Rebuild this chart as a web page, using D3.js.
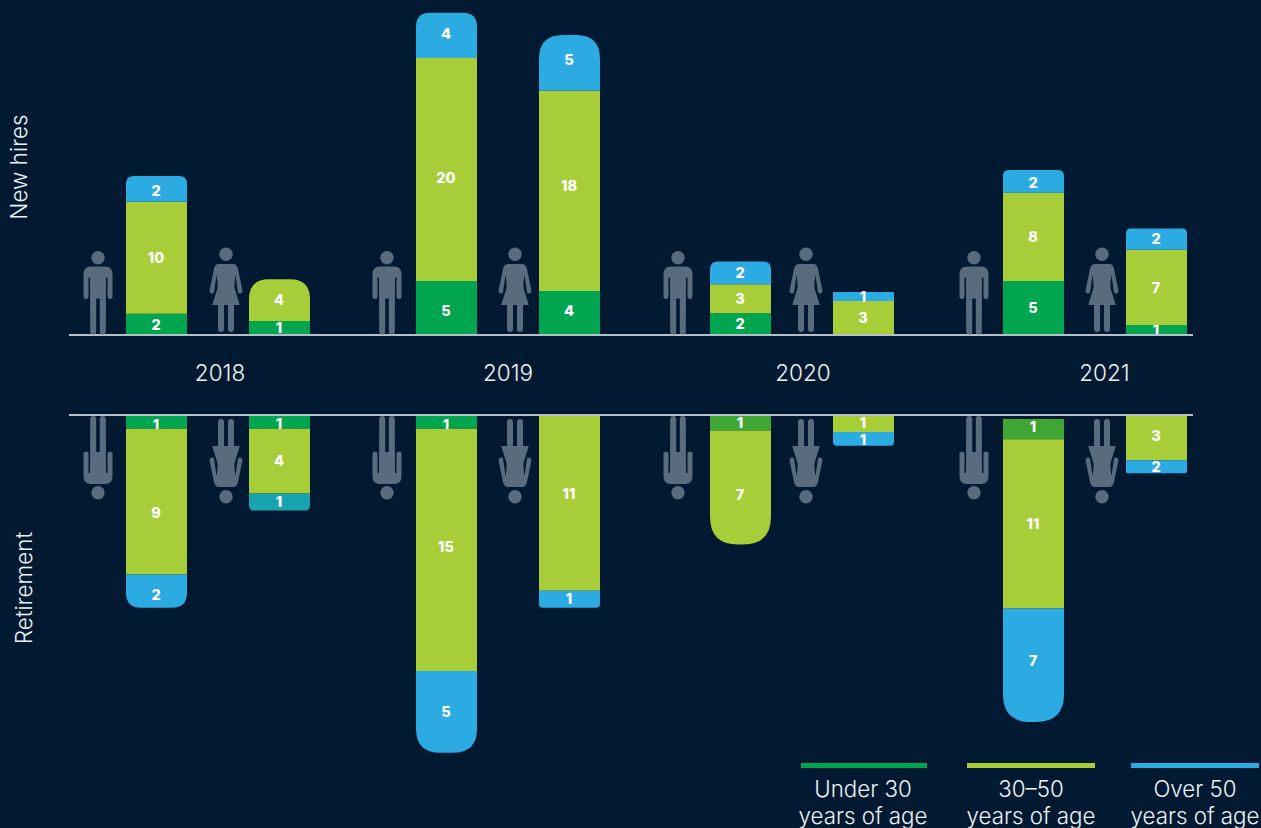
<!DOCTYPE html>
<html>
<head>
<meta charset="utf-8">
<script src="https://cdn.jsdelivr.net/npm/d3@7"></script>
<style>
    html, body { margin: 0; padding: 0; background: #011a32; }
    svg { display: block; }
    text { font-family: Inter, Lato, sans-serif; }
</style>
</head>
<body>
<div id="chart"></div>
<script>
const years = ["2018", "2019", "2020", "2021"];
const sexes = ["male", "female"];
const ageGroups = ["under30", "mid", "over50"];
const ageNames = [["Under 30", "years of age"], ["30–50", "years of age"], ["Over 50", "years of age"]];

// order of every list below: 2018 m, 2018 f, 2019 m, 2019 f, 2020 m, 2020 f, 2021 m, 2021 f
const hiresUnder30 = [1.9, 1.25, 4.85, 3.95, 1.95, 0, 4.85, 0.9];
const hiresMid = [10.05, 3.75, 20, 17.95, 2.6, 3.05, 7.9, 6.75];
const hiresOver50 = [2.3, 0, 4.05, 5, 2.05, 0.8, 2.05, 1.9];
const hiresUnder30Labels = ["2", "1", "5", "4", "2", "", "5", "1"];
const hiresMidLabels = ["10", "4", "20", "18", "3", "3", "8", "7"];
const hiresOver50Labels = ["2", "", "4", "5", "2", "1", "2", "2"];

const retireGap = [0, 0, 0, 0, 0, 0, 0.25, 0];
const retireUnder30 = [0.85, 0.85, 0.85, 0, 0.95, 0, 1.25, 0];
const retireMid = [9, 4, 14.95, 10.85, 7.05, 1.05, 10.45, 2.8];
const retireOver50 = [2.05, 1.05, 5.05, 1.05, 0, 0.85, 7, 0.8];
const retireUnder30Labels = ["1", "1", "1", "", "1", "", "1", ""];
const retireMidLabels = ["9", "4", "15", "11", "7", "1", "11", "3"];
const retireOver50Labels = ["2", "1", "5", "1", "", "1", "7", "2"];

const width = 1261, height = 828;
const barWidth = 61;
const hiresBase = 335, retireBase = 415;

// corner rounding differs from bar to bar in the original
const hiresRadius = [8, 20, 14, 24, 8, 0, 6, 5];
const retireRadius = [15, 5, 24, 4, 28, 4, 28, 2];

const color = d3.scaleOrdinal(ageGroups, ["#00a54f", "#a7ce38", "#2cabe3"]);
// a few segments are printed in an odd tint
const tints = { "retire:1:over50": "#19a3ae", "retire:4:under30": "#3fa535", "retire:6:under30": "#3fa535" };
// the printed numbers were placed by hand, not exactly mid segment
const labelNudge = {
    "hires:2:under30": 3, "hires:2:mid": 8.5, "hires:2:over50": -1.5,
    "hires:3:under30": -2, "hires:3:mid": -5, "hires:3:over50": -3,
    "hires:0:over50": 2, "hires:6:over50": 1.5,
    "retire:0:under30": 3, "retire:0:mid": 11.5, "retire:0:over50": 4,
    "retire:1:under30": 2, "retire:2:under30": 3, "retire:2:mid": -3,
    "retire:3:mid": -9, "retire:4:mid": 7,
    "retire:5:mid": -0.5, "retire:5:over50": 0.5,
    "retire:6:under30": -2, "retire:6:over50": -5, "retire:7:mid": -2
};

const barX = d3.scaleOrdinal(years, [126, 416, 710, 1003]);
const sexOffset = d3.scaleOrdinal(sexes, [0, 123]);
const maleIconX = d3.scaleOrdinal(years, [98, 387, 678, 974]);
const femaleIconX = d3.scaleOrdinal(years, [226, 515, 806, 1102]);

const yHires = d3.scaleLinear().domain([0, 30]).range([hiresBase, hiresBase - 334.5]);
const yRetire = d3.scaleLinear().domain([0, 30]).range([retireBase, retireBase + 486]);

function makeRows(gap, under30, mid, over50, l1, l2, l3) {
    return under30.map((d, i) => ({
        year: years[Math.floor(i / 2)],
        sex: sexes[i % 2],
        gap: gap ? gap[i] : 0,
        under30: d,
        mid: mid[i],
        over50: over50[i],
        labels: { under30: l1[i], mid: l2[i], over50: l3[i] }
    }));
}

const hiresRows = makeRows(null, hiresUnder30, hiresMid, hiresOver50, hiresUnder30Labels, hiresMidLabels, hiresOver50Labels);
const retireRows = makeRows(retireGap, retireUnder30, retireMid, retireOver50, retireUnder30Labels, retireMidLabels, retireOver50Labels);

const svg = d3.select("#chart").append("svg")
    .attr("width", width)
    .attr("height", height);

svg.append("rect").attr("width", width).attr("height", height).attr("fill", "#011a32");

// segment outline, with the far end rounded when r > 0
function segmentPath(x0, x1, yStart, yEnd, r) {
    const p = d3.path();
    const dir = yEnd < yStart ? -1 : 1;
    p.moveTo(x0, yStart);
    p.lineTo(x0, yEnd - dir * r);
    if (r > 0) p.quadraticCurveTo(x0, yEnd, x0 + r, yEnd);
    p.lineTo(x1 - r, yEnd);
    if (r > 0) p.quadraticCurveTo(x1, yEnd, x1, yEnd - dir * r);
    p.lineTo(x1, yStart);
    p.closePath();
    return p.toString();
}

function drawBars(rows, y, radius, panel) {
    const stacked = d3.stack().keys(["gap"].concat(ageGroups))(rows);
    const g = svg.append("g").attr("class", "bars-" + panel);

    stacked.filter(s => s.key !== "gap").forEach(series => {
        series.forEach((seg, i) => {
            const row = seg.data;
            if (row[series.key] === 0) return;
            const x0 = barX(row.year) + sexOffset(row.sex);
            const id = panel + ":" + i + ":" + series.key;
            // the outermost non-empty segment takes the rounding
            const last = ageGroups.filter(k => row[k] > 0).pop() === series.key;
            g.append("path")
                .attr("d", segmentPath(x0, x0 + barWidth, y(seg[0]), y(seg[1]), last ? radius[i] : 0))
                .attr("fill", tints[id] || color(series.key));
            g.append("text")
                .attr("x", x0 + barWidth / 2 - 0.5)
                .attr("y", (y(seg[0]) + y(seg[1])) / 2 + (labelNudge[id] || 0))
                .attr("dy", "0.36em")
                .attr("text-anchor", "middle")
                .attr("font-size", 14.5)
                .attr("font-weight", 800)
                .attr("fill", "#fff")
                .text(row.labels[series.key]);
        });
    });
}

drawBars(hiresRows, yHires, hiresRadius, "hires");
drawBars(retireRows, yRetire, retireRadius, "retire");

// baselines
[hiresBase, retireBase].forEach(yy => {
    svg.append("line")
        .attr("x1", 69).attr("x2", 1193)
        .attr("y1", yy).attr("y2", yy)
        .attr("stroke", "#b6bec6")
        .attr("stroke-width", 2);
});

// pictograms, drawn with the feet at (0, 0) and the head going up
const malePath = "M-14.5,-60Q-14.5,-68 -7,-68L7,-68Q14.5,-68 14.5,-60L14.5,-38A2.5,2.5 0 0 1 9.5,-38L9.5,-57L8,-57L7.8,-3A3,3 0 0 1 1.8,-3L1.8,-36L-1.8,-36L-1.8,-3A3,3 0 0 1 -7.8,-3L-8,-57L-9.5,-57L-9.5,-38A2.5,2.5 0 0 1 -14.5,-38Z";
const femalePath = "M-7,-68L7,-68Q11,-68 12,-63L16.5,-41A2.5,2.5 0 0 1 12,-39.5L9.5,-57L8.5,-50L8.5,-44L13.8,-27L8,-27L8,-3A3,3 0 0 1 2,-3L2,-27L-2,-27L-2,-3A3,3 0 0 1 -8,-3L-8,-27L-13.8,-27L-8.5,-44L-8.5,-50L-9.5,-57L-12,-39.5A2.5,2.5 0 0 1 -16.5,-41L-12,-63Q-11,-68 -7,-68Z";

function drawIcon(x, yFeet, flip, sex) {
    const g = svg.append("g")
        .attr("transform", `translate(${x},${yFeet}) scale(1,${flip ? -1 : 1})`)
        .attr("fill", "#596c7d");
    g.append("path").attr("d", sex === "male" ? malePath : femalePath);
    g.append("circle").attr("cx", 0).attr("cy", sex === "male" ? -76.7 : -77.7).attr("r", 6.7);
}

years.forEach(yr => {
    drawIcon(maleIconX(yr), 334.5, false, "male");
    drawIcon(femaleIconX(yr), 332, false, "female");
    drawIcon(maleIconX(yr), 416, true, "male");
    drawIcon(femaleIconX(yr), 419, true, "female");
});

// year labels
const yearLabelX = d3.scaleOrdinal(years, [220, 508, 803, 1104.5]);
svg.selectAll(".year").data(years).enter().append("text")
    .attr("class", "year")
    .attr("x", d => yearLabelX(d))
    .attr("y", 381)
    .attr("text-anchor", "middle")
    .attr("font-size", 22.5)
    .attr("font-weight", 300)
    .attr("fill", "#eef1f3")
    .text(d => d);

// panel titles
[["New hires", 27, 167], ["Retirement", 32, 588]].forEach(t => {
    svg.append("text")
        .attr("transform", `translate(${t[1]},${t[2]}) rotate(-90)`)
        .attr("text-anchor", "middle")
        .attr("font-size", 22.5)
        .attr("font-weight", 300)
        .attr("fill", "#eef1f3")
        .text(t[0]);
});

// legend
const legendBars = [[801, 927], [967, 1095], [1131, 1259]];
const legendCenter = [863, 1031, 1195];
ageGroups.forEach((k, i) => {
    svg.append("rect")
        .attr("x", legendBars[i][0])
        .attr("y", 763)
        .attr("width", legendBars[i][1] - legendBars[i][0])
        .attr("height", 5)
        .attr("fill", color(k));
    ageNames[i].forEach((line, j) => {
        svg.append("text")
            .attr("x", legendCenter[i])
            .attr("y", 797 + j * 27)
            .attr("text-anchor", "middle")
            .attr("font-size", 22.3)
            .attr("font-weight", 300)
            .attr("fill", "#eef1f3")
            .text(line);
    });
});
</script>
</body>
</html>
